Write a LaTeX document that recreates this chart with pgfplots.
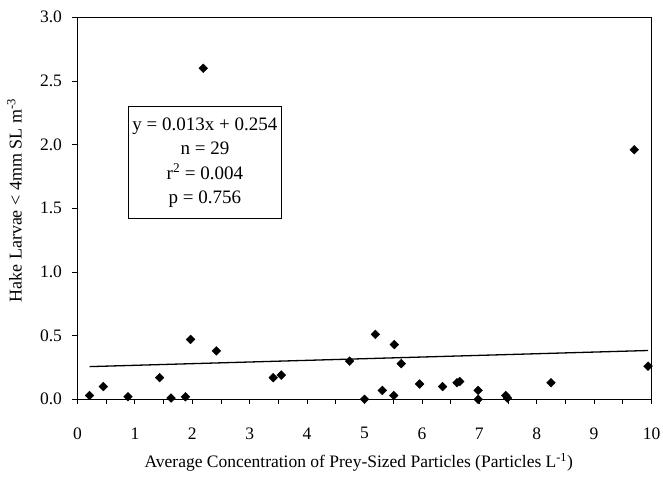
\documentclass[border=0pt]{standalone}
\usepackage{fontspec}
\setmainfont{Liberation Serif}
\usepackage{pgfplots}
\pgfplotsset{compat=1.18}
\usetikzlibrary{calc}
\begin{document}
\begin{tikzpicture}[x=1pt,y=1pt]
\begin{axis}[
  scale only axis,
  width=574pt, height=382pt,
  xmin=0, xmax=10, ymin=0, ymax=3,
  xtick={0,1,...,10},
  minor xtick={0.5,1.5,...,9.5},
  ytick={0,0.5,...,3.0},
  tick align=outside,
  major tick length=5pt, minor tick length=5pt,
  xtick pos=bottom, ytick pos=left,
  axis line style={line width=1.1pt},
  every tick/.style={black, line width=0.8pt},
  /pgf/number format/assume math mode=true,
  yticklabel style={/pgf/number format/fixed, /pgf/number format/fixed zerofill, /pgf/number format/precision=1, font=\fontsize{17.5}{19}\selectfont, xshift=-7pt},
  xticklabel style={font=\fontsize{17.5}{19}\selectfont, anchor=center, yshift=-29pt},
  xlabel={Average Concentration of Prey-Sized Particles (Particles L\textsuperscript{-1})},
  ylabel={Hake Larvae < 4mm SL m\textsuperscript{-3}},
  xlabel style={font=\fontsize{17.5}{19}\selectfont, at={(axis description cs:0.49,-0.165)}, anchor=center},
  ylabel style={font=\fontsize{18}{20}\selectfont, at={(axis description cs:-0.11,0.52)}, anchor=center, rotate=0},
  clip=false,
]
\addplot[only marks, mark=square*, mark size=3.1pt, mark options={rotate=45, fill=black, draw=black}] coordinates {
(0.21,0.03) (0.45,0.10) (0.88,0.02) (1.43,0.17) (1.63,0.01) (1.88,0.02)
(1.97,0.47) (2.19,2.60) (2.42,0.38) (3.41,0.17) (3.55,0.19) (4.74,0.30)
(5.00,0.00) (5.19,0.51) (5.31,0.07) (5.52,0.43) (5.51,0.03) (5.64,0.28)
(5.96,0.12) (6.36,0.10) (6.61,0.13) (6.66,0.14) (6.98,0.07) (6.98,0.00)
(7.46,0.03) (7.49,0.01) (8.25,0.13) (9.70,1.96) (9.94,0.26)
};
\addplot[black, line width=1.3pt] coordinates {(0.21,0.2567) (9.94,0.3832)};
\node[draw, line width=1.1pt, fill=white, align=center, minimum width=153pt, minimum height=112pt, inner sep=2pt, font=\fontsize{19}{24.5}\selectfont]
  at (axis cs:2.22,1.86) {y = 0.013x + 0.254\\ n = 29\\ r\textsuperscript{2} = 0.004\\ p = 0.756};
\coordinate (bl) at (rel axis cs:0,0);
\coordinate (tr) at (rel axis cs:1,1);
\end{axis}
\pgfresetboundingbox
\path ($(bl)+(-77.5pt,-77.5pt)$) rectangle ($(tr)+(11.5pt,17.3pt)$);
\end{tikzpicture}
\end{document}
